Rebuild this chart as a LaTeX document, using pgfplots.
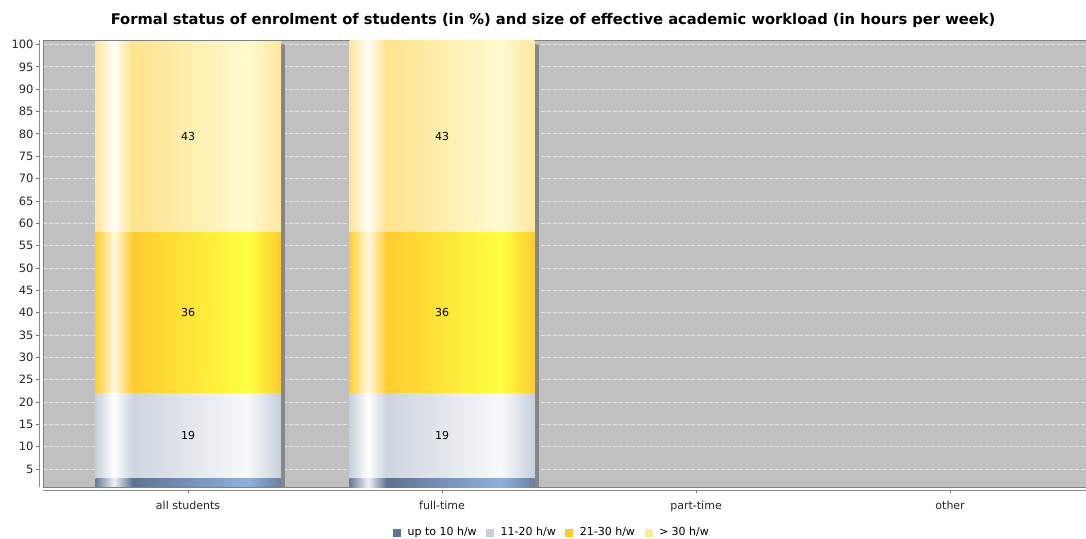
\documentclass[border=0pt]{standalone}
\usepackage{pgfplots}
\pgfplotsset{compat=1.18}
\usepackage{fontspec}
\setmainfont{DejaVu Sans}
\definecolor{bgray}{HTML}{C0C0C0}
\definecolor{cA}{HTML}{5F7391}
\definecolor{cB}{HTML}{C8D0DC}
\definecolor{cC}{HTML}{FFC926}
\definecolor{cD}{HTML}{FFE899}
% shading colours
\definecolor{a0}{HTML}{6A7C98}\definecolor{a1}{HTML}{EEF2F6}\definecolor{a2}{HTML}{5E7292}\definecolor{a3}{HTML}{90B0DC}\definecolor{a4}{HTML}{6A809E}
\definecolor{b0}{HTML}{C9D1DC}\definecolor{b1}{HTML}{FFFFFF}\definecolor{b2}{HTML}{CDD5E0}\definecolor{b3}{HTML}{F8F9FA}\definecolor{b4}{HTML}{C8D0DC}
\definecolor{g0}{HTML}{FFD030}\definecolor{g1}{HTML}{FFF8E0}\definecolor{g2}{HTML}{FFCC30}\definecolor{g3}{HTML}{FFFF40}\definecolor{g4}{HTML}{FFCC30}
\definecolor{d0}{HTML}{FFE6A0}\definecolor{d1}{HTML}{FFFEF8}\definecolor{d2}{HTML}{FFE38E}\definecolor{d3}{HTML}{FFFAD0}\definecolor{d4}{HTML}{FFE8A0}
\pgfdeclarehorizontalshading{shA}{100bp}{color(0bp)=(a0); color(25bp)=(a0); color(30bp)=(a1); color(35bp)=(a2); color(66bp)=(a3); color(75bp)=(a4); color(100bp)=(a4)}
\pgfdeclarehorizontalshading{shB}{100bp}{color(0bp)=(b0); color(25bp)=(b0); color(30bp)=(b1); color(35bp)=(b2); color(66bp)=(b3); color(75bp)=(b4); color(100bp)=(b4)}
\pgfdeclarehorizontalshading{shC}{100bp}{color(0bp)=(g0); color(25bp)=(g0); color(30bp)=(g1); color(35bp)=(g2); color(66bp)=(g3); color(75bp)=(g4); color(100bp)=(g4)}
\pgfdeclarehorizontalshading{shD}{100bp}{color(0bp)=(d0); color(25bp)=(d0); color(30bp)=(d1); color(35bp)=(d2); color(66bp)=(d3); color(75bp)=(d4); color(100bp)=(d4)}
\pgfplotsset{
  sw/.style={legend image code/.code={\pgfpathrectangle{\pgfpoint{0pt}{-2pt}}{\pgfpoint{4pt}{4pt}}\pgfsetfillcolor{#1}\pgfusepath{fill}}},
  common/.style={
    at={(0pt,0pt)}, anchor=south west,
    scale only axis, width=521.5pt, height=223.5pt,
    xmin=-0.571, xmax=3.535, ymin=1, ymax=101,
    /pgf/number format/assume math mode=true,
  },
  baraxis/.style={common, ybar stacked, bar width=0.728,
    axis line style={draw=none}, xtick=\empty, ytick=\empty},
  lbl/.style={
    visualization depends on={rawy \as \rawy},
    nodes near coords={\pgfmathprintnumber{\rawy}},
    every node near coord/.style={anchor=center, font=\fontsize{5.5}{6}\selectfont, text=black},
  },
}
\begin{document}
\begin{tikzpicture}
\useasboundingbox (-21.5pt,-25.5pt) rectangle (521.5pt,243.5pt);
% background, grid and shadows
\begin{axis}[common,
  axis background/.style={fill=bgray},
  axis line style={draw=none},
  xtick=\empty, ytick={5,10,...,100}, yticklabels={}, major tick length=0pt,
  ymajorgrids, grid style={white!90!black, line width=0.4pt, dash pattern=on 2pt off 1pt},
]
\addplot[ybar, bar width=0.728, bar shift=2.2pt, fill=black!47, draw=none] coordinates {(0,100) (1,100)};
\end{axis}
% bar of the first category
\begin{axis}[baraxis]
\addplot[draw=none, shading=shA] coordinates {(0,3)};
\addplot[draw=none, shading=shB, lbl] coordinates {(0,19)};
\addplot[draw=none, shading=shC, lbl] coordinates {(0,36)};
\addplot[draw=none, shading=shD, lbl] coordinates {(0,43)};
\end{axis}
% bar of the second category, with axes, title and legend
\begin{axis}[common,
  ybar stacked, bar width=0.728,
  xtick={0,1,2,3}, xticklabels={all students, full-time, part-time, other},
  ytick={5,10,...,100},
  xtick pos=lower, ytick pos=left,
  axis line style={draw=black!50, line width=0.5pt},
  tick style={black!55, line width=0.4pt},
  tick align=outside, major tick length=1.6pt,
  ytick style={xshift=-1.75pt}, xtick style={yshift=-1.5pt},
  ticklabel style={font=\fontsize{5.5}{6}\selectfont, text=black!85},
  yticklabel style={xshift=0.4pt, font=\fontsize{5.75}{6}\selectfont},
  xticklabel style={yshift=-2pt},
  title={Formal status of enrolment of students (in \%) and size of effective academic workload (in hours per week)},
  title style={font=\bfseries\fontsize{7.35}{8.5}\selectfont, at={(0.489,1)}, anchor=center, yshift=4pt},
  legend style={at={(0.489,-0.102)}, anchor=center, draw=none, fill=none, legend columns=4,
    font=\fontsize{5.5}{6}\selectfont, inner sep=0pt,
    /tikz/every odd column/.append style={column sep=1.2pt},
    /tikz/every even column/.append style={column sep=2.8pt}},
  after end axis/.code={
    \draw[black!45, line width=0.5pt] ([xshift=-1.75pt]rel axis cs:0,0) -- ([xshift=-1.75pt]rel axis cs:0,1);
    \draw[black!45, line width=0.5pt] ([yshift=-1.5pt]rel axis cs:0,0) -- ([yshift=-1.5pt]rel axis cs:1,0);
  },
]
\addplot[draw=none, shading=shA, sw=cA] coordinates {(1,3)};
\addlegendentry{up to 10 h/w}
\addplot[draw=none, shading=shB, sw=cB, lbl] coordinates {(1,19)};
\addlegendentry{11-20 h/w}
\addplot[draw=none, shading=shC, sw=cC, lbl] coordinates {(1,36)};
\addlegendentry{21-30 h/w}
\addplot[draw=none, shading=shD, sw=cD, lbl] coordinates {(1,43)};
\addlegendentry{> 30 h/w}
\end{axis}
\end{tikzpicture}
\end{document}
